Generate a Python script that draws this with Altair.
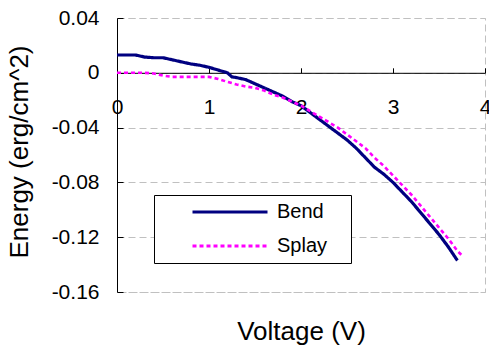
import altair as alt
import pandas as pd

# ---- data ----
bend_v = [0.0, 0.1, 0.2, 0.3, 0.4, 0.5, 0.6, 0.7, 0.8, 0.9, 1.0, 1.1, 1.2, 1.25, 1.3,
          1.4, 1.5, 1.6, 1.7, 1.8, 1.9, 2.0, 2.1, 2.2, 2.3, 2.4, 2.5, 2.6, 2.7, 2.8,
          2.9, 3.0, 3.1, 3.2, 3.3, 3.4, 3.5, 3.6, 3.7]
bend_e = [0.013, 0.013, 0.013, 0.0115, 0.011, 0.011, 0.0095, 0.008, 0.0065, 0.0055,
          0.004, 0.002, 0.0, -0.003, -0.0035, -0.005, -0.008, -0.011, -0.014, -0.017,
          -0.021, -0.024, -0.029, -0.034, -0.039, -0.044, -0.049, -0.055, -0.062, -0.069,
          -0.074, -0.080, -0.087, -0.094, -0.102, -0.110, -0.118, -0.127, -0.137]

splay_v = [0.0, 0.1, 0.2, 0.3, 0.4, 0.5, 0.6, 0.7, 0.8, 0.9, 1.0, 1.1, 1.2, 1.3, 1.4,
           1.5, 1.6, 1.7, 1.8, 1.9, 2.0, 2.1, 2.2, 2.3, 2.4, 2.5, 2.6, 2.7, 2.8, 2.9,
           3.0, 3.1, 3.2, 3.3, 3.4, 3.5, 3.6, 3.7, 3.76]
splay_e = [0.0, 0.0, 0.0, 0.0, -0.0005, -0.002, -0.003, -0.003, -0.003, -0.003,
           -0.003, -0.0045, -0.0066, -0.0085, -0.010, -0.011, -0.013, -0.016, -0.018,
           -0.021, -0.024, -0.028, -0.032, -0.036, -0.040, -0.045, -0.050, -0.055,
           -0.062, -0.068, -0.075, -0.082, -0.089, -0.097, -0.105, -0.113, -0.121,
           -0.130, -0.134]

series_names = ["Bend", "Splay"]
series_colors = ["#000080", "#ff00ff"]
series_dashes = [[1, 0], [4, 3]]

x_ticks = [0, 1, 2, 3, 4]
y_ticks = [0.04, 0, -0.04, -0.08, -0.12, -0.16]
X_MIN, X_MAX = 0, 4
Y_MIN, Y_MAX = -0.16, 0.04

# ---- layout ----
W, H = 368, 274
PAD_L, PAD_T = 117, 18
zero_px = H * Y_MAX / (Y_MAX - Y_MIN)
FONT = "Liberation Sans"
GRID = "#c0c0c0"
# trailing blank room inside the legend box (nbsp kept by a final zero-width char)
LEG_LABEL = "datum.label + '" + "\u00a0" * 3 + "\u200b'"

bend = pd.DataFrame({"V": bend_v, "E": bend_e, "series": series_names[0]})
splay = pd.DataFrame({"V": splay_v, "E": splay_e, "series": series_names[1]})

xs = alt.Scale(domain=[X_MIN, X_MAX], nice=False, zero=False)
ys = alt.Scale(domain=[Y_MIN, Y_MAX], nice=False, zero=False)

color = alt.Color("series:N", scale=alt.Scale(domain=series_names, range=series_colors),
                  legend=alt.Legend(title=None, orient="none", legendX=37, legendY=177,
                                    labelExpr=LEG_LABEL))
dash = alt.StrokeDash("series:N", scale=alt.Scale(domain=series_names, range=series_dashes),
                      legend=alt.Legend(title=None, orient="none", legendX=37, legendY=177,
                                        labelExpr=LEG_LABEL))

x_main = alt.Axis(orient="bottom", offset=-(H - zero_px), values=x_ticks, format="d",
                  ticks=False, domain=True, domainColor="black", domainWidth=1,
                  grid=False, labelPadding=24, labelFontSize=21, labelFont=FONT,
                  labelColor="black", labelFlush=False, labelOverlap=False,
                  title="Voltage (V)", titleFontSize=26, titleFont=FONT,
                  titleFontWeight="normal", titleColor="black",
                  titleY=321 - zero_px, titleBaseline="alphabetic")
x_ticks_axis = alt.Axis(orient="top", offset=-zero_px, values=x_ticks, ticks=True,
                        tickSize=5, tickColor="black", labels=False, domain=False,
                        grid=False, title=None)
y_main = alt.Axis(orient="left", values=y_ticks,
                  labelExpr="datum.value == 0 ? '0' : toString(round(datum.value * 100) / 100)",
                  ticks=False, domain=True, domainColor="black", domainWidth=1,
                  grid=True, gridColor=GRID, gridDash=[7, 4], gridWidth=1,
                  labelPadding=18, labelFontSize=21, labelFont=FONT, labelColor="black",
                  labelFlush=False, labelOverlap=False,
                  title="Energy (erg/cm^2)", titleFontSize=26, titleFont=FONT,
                  titleFontWeight="normal", titleColor="black", titlePadding=19,
                  titleY=H / 2 - 3.5)
y_ticks_axis = alt.Axis(orient="right", offset=-W, values=y_ticks, ticks=True,
                        tickSize=6, tickColor="black", labels=False, domain=False,
                        grid=False, title=None)

bend_layer = alt.Chart(bend).mark_line(strokeWidth=3.2).encode(
    x=alt.X("V:Q", scale=xs, axis=x_main),
    y=alt.Y("E:Q", scale=ys, axis=y_main),
    color=color, strokeDash=dash,
)
splay_layer = alt.Chart(splay).mark_line(strokeWidth=2.6).encode(
    x=alt.X("V:Q", scale=xs, axis=x_ticks_axis),
    y=alt.Y("E:Q", scale=ys, axis=y_ticks_axis),
    color=color, strokeDash=dash,
)

chart = alt.layer(bend_layer, splay_layer).properties(
    width=W, height=H,
    autosize=alt.AutoSizeParams(type="none"),
    padding={"left": PAD_L, "top": PAD_T, "right": 489 - PAD_L - W, "bottom": 347 - PAD_T - H},
    background="white",
).configure_view(
    stroke=GRID, strokeDash=[7, 4], strokeWidth=1
).configure_legend(
    strokeColor="black", fillColor="white", padding=7, cornerRadius=0,
    symbolType="stroke", symbolSize=5625, symbolStrokeWidth=3,
    symbolOffset=30, labelOffset=8, labelFontSize=20, labelFont=FONT,
    labelColor="black", clipHeight=20, rowPadding=14, labelLimit=0,
)

chart.save("out.html", embed_options={"renderer": "svg", "actions": False})
